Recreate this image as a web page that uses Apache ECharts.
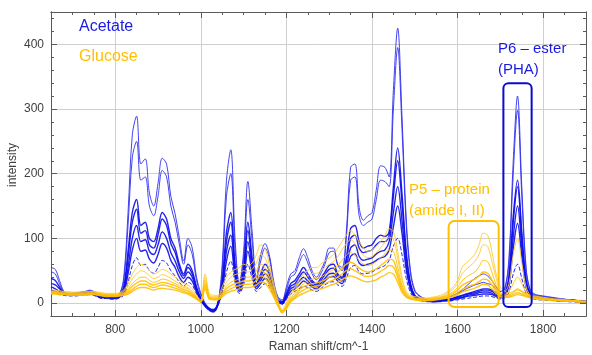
<!DOCTYPE html>
<html><head><meta charset="utf-8">
<script src="https://cdn.jsdelivr.net/npm/echarts@6/dist/echarts.min.js"></script>
<style>html,body{margin:0;padding:0;background:#fff}#c{width:592px;height:355px}</style>
</head><body><div id="c"></div>
<script>
const shift = [650,660,670,680,690,700,710,720,730,740,
750,760,770,780,790,800,810,820,830,840,
850,860,870,880,890,900,910,920,930,940,
950,960,970,980,990,1000,1010,1020,1030,1040,
1050,1060,1070,1080,1090,1100,1110,1120,1130,1140,
1150,1160,1170,1180,1190,1200,1210,1220,1230,1240,
1250,1260,1270,1280,1290,1300,1310,1320,1330,1340,
1350,1360,1370,1380,1390,1400,1410,1420,1430,1440,
1450,1460,1470,1480,1490,1500,1510,1520,1530,1540,
1550,1560,1570,1580,1590,1600,1610,1620,1630,1640,
1650,1660,1670,1680,1690,1700,1710,1720,1730,1740,
1750,1760,1770,1780,1790,1800,1810,1820,1830,1840,
1850,1860,1870,1880,1890,1900];

const acetate1 = [55,52,35,18,15,15,16,17,18,20,
18,14,12,12,11,11,14,40,140,260,
289,215,223,170,150,185,224,215,165,138,
100,65,100,85,40,15,0,-8,-12,0,
60,190,237,100,30,80,188,110,40,75,
92,75,35,10,5,25,45,50,70,84,
70,50,40,50,65,85,85,60,55,110,
210,215,148,128,135,140,175,212,210,195,
330,425,290,130,50,20,12,8,6,5,
5,6,7,9,12,15,18,22,25,28,
30,32,30,28,22,18,22,70,220,320,
180,55,20,14,12,11,10,9,8,7,
6,5,5,4,4,3];
const acetate2 = [48,45,30,17,15,15,16,16,17,19,
17,14,12,12,11,11,13,35,120,225,
250,190,195,150,135,165,205,195,150,125,
90,60,90,75,35,12,-2,-10,-14,-2,
50,165,200,85,28,70,160,95,35,65,
85,70,30,8,3,20,40,45,62,75,
62,45,36,45,60,78,80,58,50,100,
190,195,135,120,125,130,160,190,188,180,
300,395,270,120,45,18,11,7,5,4,
5,6,7,9,12,15,20,26,32,38,
42,45,42,35,25,18,21,62,200,298,
165,50,19,13,11,10,9,8,7,6,
6,5,5,4,4,3];
const acetate3 = [38,35,25,16,14,14,15,16,17,18,
16,13,11,11,10,10,12,25,80,140,
160,120,125,100,95,115,140,130,100,85,
60,45,60,50,25,8,-2,-8,-10,0,
35,110,140,60,25,55,125,70,30,45,
60,50,22,5,2,15,30,35,45,55,
45,35,30,38,48,58,60,45,40,70,
115,120,95,85,88,90,100,105,103,110,
180,240,170,80,30,12,8,6,4,3,
3,4,5,6,8,10,12,14,16,18,
20,22,22,20,16,12,15,42,135,190,
110,36,15,11,10,9,8,7,6,5,
5,4,4,3,3,2];
const acetate4 = [30,28,22,15,13,13,14,15,16,17,
15,12,10,10,9,9,11,22,70,125,
145,108,112,90,85,105,130,120,92,78,
55,42,55,45,22,6,-3,-9,-11,-1,
30,95,125,55,22,50,112,62,28,40,
52,45,20,4,1,12,26,30,40,48,
40,32,28,34,44,52,54,42,38,65,
100,105,85,78,80,82,90,95,95,105,
165,220,155,72,28,11,7,5,4,3,
3,4,5,6,7,9,11,13,15,16,
18,20,20,18,14,11,13,38,125,180,
102,33,14,10,9,8,7,6,5,5,
4,4,3,3,2,2];
const acetate5 = [25,22,18,14,12,12,13,14,15,15,
14,11,9,9,8,8,10,18,55,100,
120,95,98,80,75,90,110,100,78,65,
48,38,48,40,20,5,-4,-10,-12,-2,
25,80,105,48,20,42,95,55,25,35,
45,38,18,3,0,10,22,26,34,40,
34,28,25,30,38,45,46,38,34,55,
85,90,72,66,68,70,76,80,82,95,
140,180,128,60,24,10,6,5,4,3,
3,3,4,5,6,8,9,11,13,14,
16,17,17,15,12,10,12,32,102,150,
86,28,13,9,8,7,6,6,5,4,
4,3,3,3,2,2];
const acetate6 = [20,18,15,13,12,12,12,13,14,14,
13,10,8,8,7,7,9,15,45,82,
100,80,82,68,62,75,92,85,66,55,
40,32,40,34,17,4,-5,-11,-13,-3,
20,65,88,40,18,36,80,48,22,30,
38,32,15,2,-1,8,18,22,28,34,
30,25,22,27,34,40,41,34,30,48,
72,76,62,58,60,62,66,70,72,82,
118,150,108,52,21,9,5,4,3,2,
2,3,4,4,5,7,8,10,11,12,
13,14,14,13,10,8,10,27,85,123,
72,24,11,8,7,6,6,5,4,4,
3,3,3,2,2,2];
const acetate7 = [16,15,13,12,11,11,11,12,12,13,
12,9,7,7,6,6,8,12,32,58,
70,58,60,50,46,55,66,62,50,42,
32,26,32,28,14,3,-5,-12,-14,-4,
15,48,65,32,15,28,60,38,18,24,
30,26,12,1,-2,6,14,18,22,26,
24,20,18,22,28,32,33,28,26,38,
55,58,48,45,46,48,52,55,58,66,
88,100,75,38,16,7,4,3,2,2,
2,2,3,3,4,5,6,7,8,9,
10,11,11,10,8,6,8,17,45,60,
38,15,8,6,5,5,4,4,3,3,
3,2,2,2,2,1];

const glucose1 = [20,20,19,18,18,17,17,17,18,18,
18,17,16,15,15,15,16,20,30,45,
55,60,58,50,45,48,52,50,45,40,
35,30,28,22,12,5,45,15,12,12,
25,40,48,52,55,60,58,62,75,90,
85,60,30,5,-10,0,15,25,35,45,
50,55,55,60,65,70,75,85,95,105,
112,105,95,85,80,82,88,95,105,115,
110,80,40,18,12,10,9,8,8,9,
10,12,15,20,25,35,55,62,68,75,
90,108,105,80,45,25,18,16,18,20,
18,15,12,11,10,9,8,7,6,6,
5,5,4,4,3,3];
const glucose2 = [18,18,17,17,16,16,16,16,16,17,
17,16,15,14,14,14,15,18,25,38,
45,50,48,42,38,40,44,42,38,34,
30,26,24,18,10,3,40,12,10,10,
20,32,40,44,46,50,48,52,62,75,
70,50,25,2,-12,-3,12,20,30,38,
42,46,46,50,55,60,64,72,82,92,
98,92,82,74,70,72,78,85,94,102,
98,70,35,16,10,8,7,7,7,8,
9,10,13,17,22,30,45,52,58,64,
75,90,88,65,38,20,18,30,75,100,
62,25,12,10,9,8,7,6,6,5,
5,4,4,3,3,3];
const glucose3 = [17,17,16,16,15,15,15,15,15,16,
16,15,14,13,13,13,14,16,22,30,
36,40,40,35,32,34,37,36,33,30,
27,24,22,16,9,3,35,10,8,8,
16,26,32,35,37,40,40,42,50,60,
55,40,20,0,-14,-5,8,16,24,30,
34,37,38,40,44,48,52,58,66,74,
78,74,66,60,58,60,64,70,76,82,
80,56,28,14,9,7,6,6,6,7,
8,9,11,14,18,24,34,40,44,48,
56,66,64,48,28,16,14,18,30,40,
30,17,11,9,8,7,6,6,5,5,
4,4,4,3,3,2];
const glucose4 = [16,16,15,15,14,14,14,14,14,15,
15,14,13,12,12,12,13,15,19,26,
31,34,34,30,28,30,32,31,29,27,
24,21,19,14,8,2,30,8,7,7,
14,22,27,30,32,34,34,36,42,50,
46,34,16,-2,-15,-7,5,12,20,25,
28,30,31,33,36,40,43,48,54,60,
63,60,54,50,48,50,53,58,63,68,
66,46,24,12,8,6,5,5,5,6,
7,8,10,12,15,20,27,31,34,37,
42,48,46,36,22,13,12,13,16,22,
18,13,10,8,7,6,6,5,5,4,
4,3,3,3,2,2];
const glucose5 = [15,15,14,14,13,13,13,13,13,14,
14,13,12,11,11,11,12,13,16,21,
26,29,29,26,24,26,28,27,25,23,
21,18,16,12,7,2,26,7,6,6,
12,18,22,25,27,29,29,30,35,42,
39,28,13,-3,-14,-8,3,9,16,20,
23,25,26,28,30,33,36,40,45,50,
53,50,46,42,41,42,45,49,53,58,
56,40,20,10,7,5,5,4,4,5,
6,7,8,10,12,16,21,24,27,29,
33,37,36,28,18,11,10,11,13,16,
14,11,9,7,6,6,5,5,4,4,
3,3,3,2,2,2];
const glucose6 = [14,14,13,13,12,12,12,12,12,13,
13,12,11,10,10,10,11,12,14,18,
22,24,24,22,20,22,23,22,21,20,
18,16,14,10,6,1,22,6,5,5,
10,15,18,20,22,24,24,25,28,33,
31,22,10,-4,-12,-8,2,7,12,15,
18,20,21,22,24,27,29,32,36,40,
42,40,37,34,33,34,36,40,43,47,
45,32,17,9,6,5,4,4,4,4,
5,6,7,8,10,13,17,19,21,23,
26,29,28,22,15,10,9,9,11,13,
12,10,8,7,6,5,5,4,4,4,
3,3,3,2,2,2];

const acetateSeries = [acetate1, acetate2, acetate3, acetate4, acetate5, acetate6, acetate7];
const glucoseSeries = [glucose1, glucose2, glucose3, glucose4, glucose5, glucose6];
const xTicks = [800,1000,1200,1400,1600,1800];
const yTicks = [0,100,200,300,400];
// annotation boxes in data units
const p5Box = {x: [1579, 1696], y: [-6, 127]};
const p6Box = {x: [1707, 1773], y: [-6, 340]};

const AX = '#5a5a5a';
const FONT = '"Liberation Sans", Arial, sans-serif';
const series = [];
acetateSeries.forEach((arr, k) => {
  series.push({
    type: 'line', xAxisIndex: 0, yAxisIndex: 0, silent: true, showSymbol: false,
    smooth: 0.35, z: 3,
    data: shift.map((x, i) => [x, arr[i]]),
    lineStyle: {width: k >= 2 && k <= 5 ? 1.4 : 1, color: k < 2 ? '#3030f0' : '#0c0ce8', opacity: 0.9,
      type: k === 6 ? 'dashed' : 'solid'}
  });
});
glucoseSeries.forEach((arr, k) => {
  series.push({
    type: 'line', xAxisIndex: 0, yAxisIndex: 0, silent: true, showSymbol: false,
    smooth: 0.35, z: 4,
    data: shift.map((x, i) => [x, arr[i]]),
    lineStyle: {width: k >= 3 ? 1.4 : 1, color: k < 2 ? '#ffcb30' : '#ffc000', opacity: 0.9}
  });
});

const fmt = v => String(v);
function xAx(pos, major, labels) {
  return {
    type: 'value', position: pos, min: 650, max: 1900, interval: 50,
    axisLine: {show: true, onZero: false, lineStyle: {color: AX, width: 1}},
    axisTick: major ? {show: true, inside: true, length: 6, customValues: xTicks, lineStyle: {color: AX}}
                    : {show: true, inside: true, length: 3, lineStyle: {color: AX}},
    axisLabel: labels ? {show: true, customValues: xTicks, formatter: fmt, color: '#404040', fontSize: 12, fontFamily: FONT, margin: 8}
                      : {show: false},
    splitLine: major && pos === 'bottom' ? {show: true, lineStyle: {color: '#cfcfcf', width: 1}} : {show: false}
  };
}
function yAx(pos, major, labels) {
  return {
    type: 'value', position: pos, min: -20, max: 450, interval: 20,
    axisLine: {show: true, onZero: false, lineStyle: {color: AX, width: 1}},
    axisTick: major ? {show: true, inside: true, length: 6, customValues: yTicks, lineStyle: {color: AX}}
                    : {show: true, inside: true, length: 3, lineStyle: {color: AX}},
    axisLabel: labels ? {show: true, customValues: yTicks, formatter: fmt, color: '#404040', fontSize: 12, fontFamily: FONT, margin: 7}
                      : {show: false},
    splitLine: major && pos === 'left' ? {show: true, lineStyle: {color: '#cfcfcf', width: 1}} : {show: false}
  };
}

const chart = echarts.init(document.getElementById('c'), null, {renderer: 'canvas'});
const xMain = xAx('bottom', false, true);
xMain.name = 'Raman shift/cm^-1';
xMain.nameLocation = 'middle';
xMain.nameGap = 22;
xMain.nameTextStyle = {color: '#404040', fontSize: 12, fontFamily: FONT};

chart.setOption({
  animation: false,
  backgroundColor: '#ffffff',
  grid: {left: 51, right: 6, top: 12, bottom: 39, containLabel: false, outerBoundsMode: 'none'},
  xAxis: [xMain, xAx('bottom', true, false), xAx('top', false, false), xAx('top', true, false)],
  yAxis: [yAx('left', false, true), yAx('left', true, false), yAx('right', false, false), yAx('right', true, false)],
  series: series
});

function box(b, color, r) {
  const p0 = chart.convertToPixel({xAxisIndex: 0, yAxisIndex: 0}, [b.x[0], b.y[1]]);
  const p1 = chart.convertToPixel({xAxisIndex: 0, yAxisIndex: 0}, [b.x[1], b.y[0]]);
  return {type: 'rect', z: 10, shape: {x: p0[0], y: p0[1], width: p1[0] - p0[0], height: p1[1] - p0[1], r: r},
    style: {fill: null, stroke: color, lineWidth: 2}};
}
function txt(t, x, y, color, size) {
  return {type: 'text', x: x, y: y, z: 10,
    style: {text: t, fill: color, font: size + 'px ' + FONT, verticalAlign: 'middle', align: 'left'}};
}
chart.setOption({
  graphic: [
    box(p5Box, '#ffc000', 6),
    box(p6Box, '#0a0ad0', 5),
    txt('Acetate', 79, 27, '#1a1ae0', 16),
    txt('Glucose', 79, 57, '#ffc000', 16),
    txt('P6 \u2013 ester', 498, 49, '#1a1ae0', 15),
    txt('(PHA)', 498, 70, '#1a1ae0', 15),
    txt('P5 \u2013 protein', 409, 190, '#ffc000', 15),
    txt('(amide I, II)', 409, 211, '#ffc000', 15),
    {type: 'text', x: 13, y: 165, rotation: Math.PI / 2, z: 10,
      style: {text: 'intensity', fill: '#404040', font: '12px ' + FONT, align: 'center', verticalAlign: 'middle'}}
  ]
});
</script>
</body></html>
